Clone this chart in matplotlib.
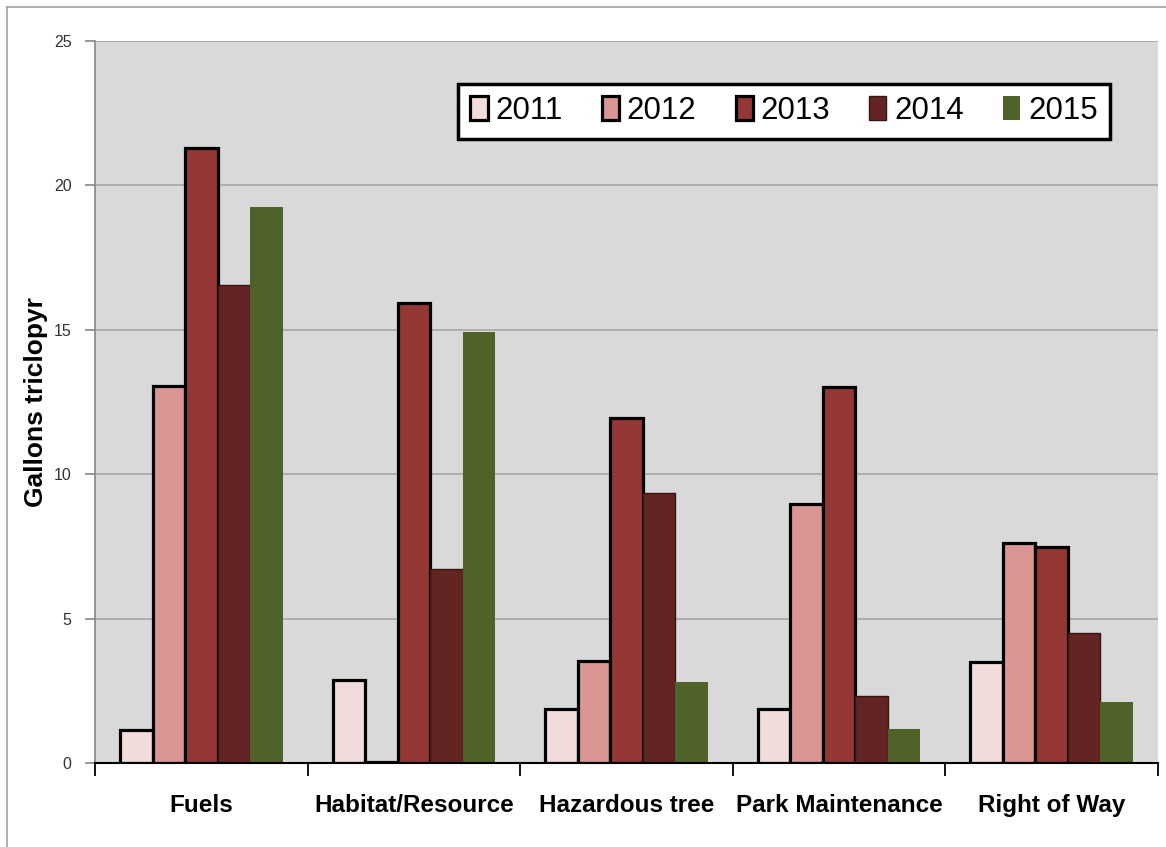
import numpy as np
import matplotlib
matplotlib.use("Agg")
import matplotlib.pyplot as plt
from matplotlib.lines import Line2D

plt.rcParams['font.family'] = ['Liberation Sans', 'DejaVu Sans']

# data
categories = ['Fuels', 'Habitat/Resource', 'Hazardous tree', 'Park Maintenance', 'Right of Way']
years = ['2011', '2012', '2013', '2014', '2015']
v2011 = [1.15, 2.87, 1.87, 1.87, 3.50]
v2012 = [13.05, 0.05, 3.53, 8.97, 7.62]
v2013 = [21.30, 15.93, 11.95, 13.02, 7.48]
v2014 = [16.55, 6.72, 9.35, 2.32, 4.50]
v2015 = [19.25, 14.92, 2.80, 1.18, 2.11]
series = [v2011, v2012, v2013, v2014, v2015]

colors = ['#F2DCDB', '#DA9694', '#953735', '#632523', '#4F6228']
edges = ['black', 'black', 'black', '#3A1412', 'none']
widths = [2.3, 2.3, 2.3, 1.0, 0]

fig = plt.figure(figsize=(11.66, 8.47), dpi=100)
ax = fig.add_axes([0.0815, 0.0992, 0.9115, 0.8524])
ax.set_facecolor('#D9D9D9')

# outer chart frame (left and top edges visible)
fig.add_artist(Line2D([0.006, 0.006], [0.0, 0.9917], color='#A0A0A0', lw=1.2))
fig.add_artist(Line2D([0.006, 1.0], [0.9917, 0.9917], color='#A0A0A0', lw=1.2))

x = np.arange(len(categories))
bw = 0.153
for i, vals in enumerate(series):
    ax.bar(x + (i - 2) * bw, vals, width=bw, color=colors[i], edgecolor=edges[i],
           linewidth=widths[i], label=years[i], zorder=3)

ax.set_xlim(-0.5, len(categories) - 0.5)
ax.set_ylim(0, 25)
ax.set_yticks([0, 5, 10, 15, 20, 25])
ax.yaxis.grid(True, color='#A6A6A6', lw=1.2, zorder=0)
ax.set_axisbelow(True)

ax.set_xticks(x)
ax.set_xticklabels(categories, fontsize=17.5, fontweight='bold')
ax.tick_params(axis='x', length=0, pad=22)
# category boundary ticks
ax.set_xticks(np.arange(-0.5, len(categories)), minor=True)
ax.tick_params(axis='x', which='minor', length=9, width=1.3, color='black', direction='out')
ax.tick_params(axis='y', length=7, width=1.2, color='#868686', labelsize=11.5, labelcolor='#333333', pad=10)

for s in ['top', 'right']:
    ax.spines[s].set_visible(False)
ax.spines['left'].set_color('#868686')
ax.spines['left'].set_linewidth(1.2)
ax.spines['bottom'].set_color('black')
ax.spines['bottom'].set_linewidth(1.5)
ax.spines['bottom'].set_zorder(4)

ax.set_ylabel('Gallons triclopyr', fontsize=19, fontweight='bold', labelpad=4)

leg = ax.legend(ncol=5, loc='upper right', bbox_to_anchor=(0.955, 0.941), fontsize=22.5,
                fancybox=False, framealpha=1, edgecolor='black', handlelength=0.55,
                handleheight=0.8, handletextpad=0.25, columnspacing=1.25,
                borderpad=0.4, borderaxespad=0)
leg.get_frame().set_linewidth(2.5)

fig.savefig('out.png', dpi=100)
